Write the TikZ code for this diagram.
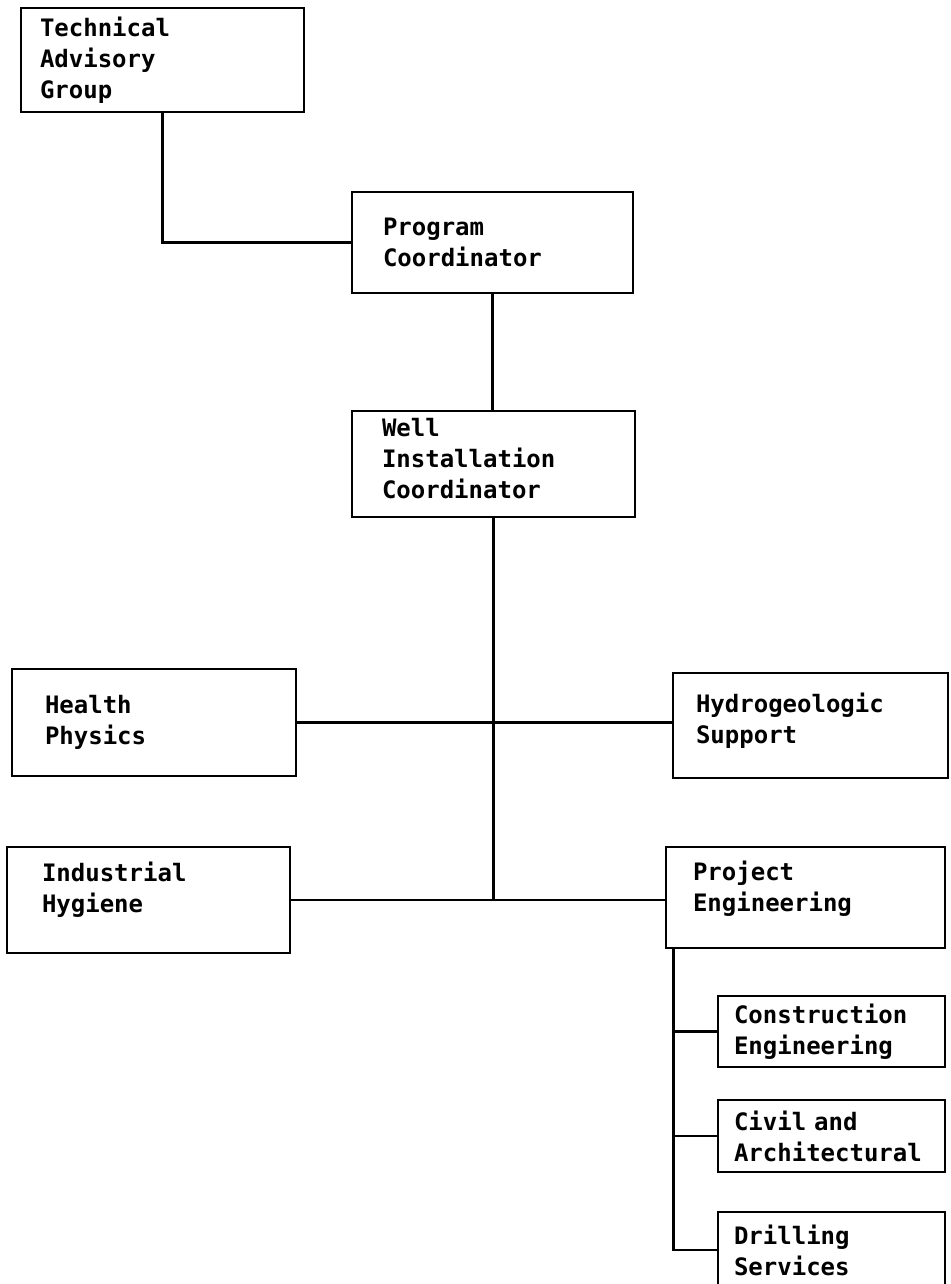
\documentclass[tikz,border=0pt]{standalone}
\usepackage{fontspec}
\usepackage{tikz}
\newfontfamily\orgfont[WordSpace={1,0,0}]{DejaVu Sans Mono}
\tikzset{
UnitBox/.style={
 draw=black,
 line width=2.8pt,
 rectangle,
 align=left,
 inner ysep=0pt,
 font=\orgfont\bfseries\fontsize{24}{31}\selectfont
 },
Link/.style={
 draw=black,
 line width=2.8pt
 }
}
\begin{document}
\begin{tikzpicture}[x=1pt,y=-1pt]
\useasboundingbox (0,0) rectangle (950,1284);
\node[UnitBox,minimum width=283pt,minimum height=104pt,text width=245pt,inner xsep=19pt] (tag) at (162.5,60) {Technical\\Advisory\\Group};
\node[UnitBox,minimum width=281pt,minimum height=101pt,text width=219pt,inner xsep=31pt] (prog) at (492.5,242.5) {Program\\Coordinator};
\node[UnitBox,minimum width=283pt,minimum height=106pt,text width=223pt,inner xsep=30pt,text depth=74pt] (well) at (493.5,464) {Well\\Installation\\Coordinator};
\node[UnitBox,minimum width=284pt,minimum height=107pt,text width=218pt,inner xsep=33pt] (health) at (154,722.5) {Health\\Physics};
\node[UnitBox,minimum width=275pt,minimum height=105pt,text width=229pt,inner xsep=23pt,text depth=44.7pt] (hydro) at (810.5,725.5) {Hydrogeologic\\Support};
\node[UnitBox,minimum width=283pt,minimum height=106pt,text width=213pt,inner xsep=35pt,text depth=56.7pt] (ind) at (148.5,900) {Industrial\\Hygiene};
\node[UnitBox,minimum width=279pt,minimum height=101pt,text width=225pt,inner xsep=27pt,text depth=52.7pt] (proj) at (805.5,897.5) {Project\\Engineering};
\node[UnitBox,minimum width=227pt,minimum height=71pt,text width=195pt,inner xsep=16pt] (constr) at (831.5,1031.5) {Construction\\Engineering};
\node[UnitBox,minimum width=227pt,minimum height=72pt,text width=195pt,inner xsep=16pt] (civil) at (831.5,1136) {Civil and\\Architectural};
\node[UnitBox,minimum width=227pt,minimum height=76pt,text width=195pt,inner xsep=16pt] (drill) at (831.5,1250) {Drilling\\Services};
\draw[Link] (tag.south) |- (prog.west);
\draw[Link] (prog.south) -- (prog.south |- well.north);
\draw[Link] (well.south) -- (well.south |- ind.east);
\draw[Link] (health.east) -- (health.east -| hydro.west);
\draw[Link] (ind.east) -- (ind.east -| proj.west);
\coordinate (spine) at ([xshift=9pt]proj.south west);
\draw[Link] (spine) |- (drill.west);
\foreach \u in {constr,civil}
 \draw[Link] (\u.west) -- (\u.west -| spine);
\end{tikzpicture}
\end{document}
